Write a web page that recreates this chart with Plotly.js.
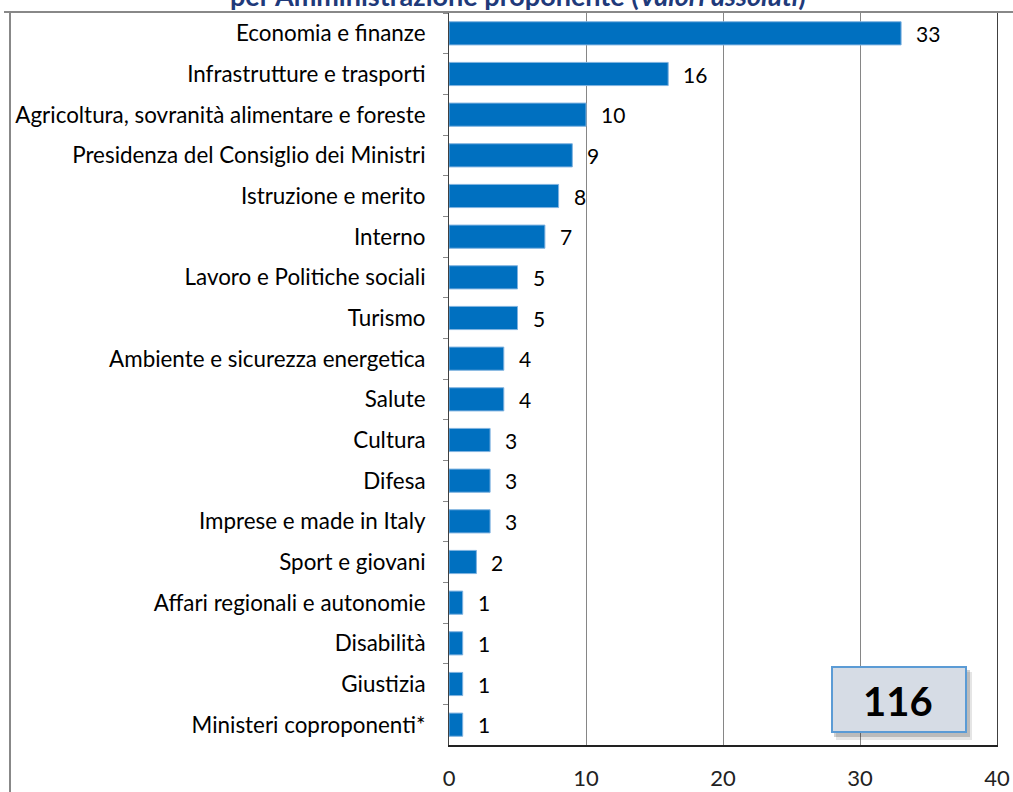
<!DOCTYPE html>
<html><head><meta charset="utf-8">
<script src="https://cdn.plot.ly/plotly-3.0.1.min.js"></script>
<style>html,body{margin:0;padding:0;background:#fff}#chart{width:1013px;height:792px}</style>
</head><body><div id="chart"></div>
<script>
const categories = [
  "Economia e finanze","Infrastrutture e trasporti","Agricoltura, sovranità alimentare e foreste",
  "Presidenza del Consiglio dei Ministri","Istruzione e merito","Interno","Lavoro e Politiche sociali",
  "Turismo","Ambiente e sicurezza energetica","Salute","Cultura","Difesa","Imprese e made in Italy",
  "Sport e giovani","Affari regionali e autonomie","Disabilità","Giustizia","Ministeri coproponenti*"
];
const values = [33,16,10,9,8,7,5,5,4,4,3,3,3,2,1,1,1,1];
const xTicks = [0,10,20,30,40];
const titleText = "per Amministrazione proponente (<i>Valori assoluti</i>)";
const total = values.reduce((a,b)=>a+b,0);

const W=1013,H=792, mL=449, mR=16, mT=13, mB=47;
const pw=W-mL-mR, ph=H-mT-mB;
const px=(x)=>(x-mL)/pw, py=(y)=>(H-mB-y)/ph;
const font="Lato, 'Noto Sans', sans-serif";

const trace = {
  type:'bar', orientation:'h', y:categories, x:values,
  marker:{color:'#0070C0', line:{color:'#7FB2E0', width:1}},
  width:0.57, hoverinfo:'skip'
};

const annotations = values.map((v,i)=>({
  x:v, y:categories[i], xref:'x', yref:'y', text:String(v), showarrow:false,
  xanchor:'left', xshift:13, font:{family:font,size:21,color:'#000'}
}));
annotations.push({
  xref:'paper', yref:'paper', x:px(518), y:1, xanchor:'center', yanchor:'bottom', yshift:-1,
  text:titleText, showarrow:false, font:{family:font,size:27,color:'#1F3A7A',weight:'bold'}
});
annotations.push({
  xref:'paper', yref:'paper', x:px(898), y:py(701), xanchor:'center', yanchor:'middle', text:'<b>'+total+'</b>', showarrow:false,
  font:{family:font,size:40,color:'#000'}
});

const shapes = [
  {type:'line', xref:'paper', yref:'paper', x0:px(4), x1:px(1013), y0:py(12), y1:py(12), line:{color:'#888',width:2}},
  {type:'line', xref:'paper', yref:'paper', x0:px(10), x1:px(10), y0:py(12), y1:py(792), line:{color:'#888',width:2}},
  {type:'rect', xref:'paper', yref:'paper', x0:px(836), x1:px(972), y0:py(672), y1:py(740), line:{width:0}, fillcolor:'rgba(0,0,0,0.10)'},
  {type:'rect', xref:'paper', yref:'paper', x0:px(834), x1:px(970), y0:py(670), y1:py(737), line:{width:0}, fillcolor:'rgba(0,0,0,0.18)'},
  {type:'rect', xref:'paper', yref:'paper', x0:px(832), x1:px(966), y0:py(667), y1:py(732), line:{color:'#5B9BD5',width:2}, fillcolor:'#D6DCE5'}
];

const layout = {
  width:W, height:H, margin:{l:mL,r:mR,t:mT,b:mB},
  paper_bgcolor:'#fff', plot_bgcolor:'#fff', showlegend:false, bargap:0.43,
  font:{family:font},
  xaxis:{range:[0,40], tickvals:xTicks, ticktext:xTicks.map(String), showgrid:true, gridcolor:'#868686', gridwidth:1,
    zeroline:false, showline:true, linecolor:'#222', linewidth:1.5, mirror:true, ticks:'', ticklabelstandoff:13,
    tickfont:{family:font,size:22,color:'#222'}, fixedrange:true},
  yaxis:{type:'category', autorange:'reversed', showline:true, linecolor:'#404040', linewidth:1, mirror:true,
    ticks:'outside', tickson:'boundaries', ticklen:5, tickcolor:'#888', ticklabelstandoff:18, showgrid:false,
    tickfont:{family:font,size:22.4,color:'#000'}, fixedrange:true},
  annotations, shapes
};
Plotly.newPlot('chart',[trace],layout,{staticPlot:true,displayModeBar:false});
</script></body></html>
